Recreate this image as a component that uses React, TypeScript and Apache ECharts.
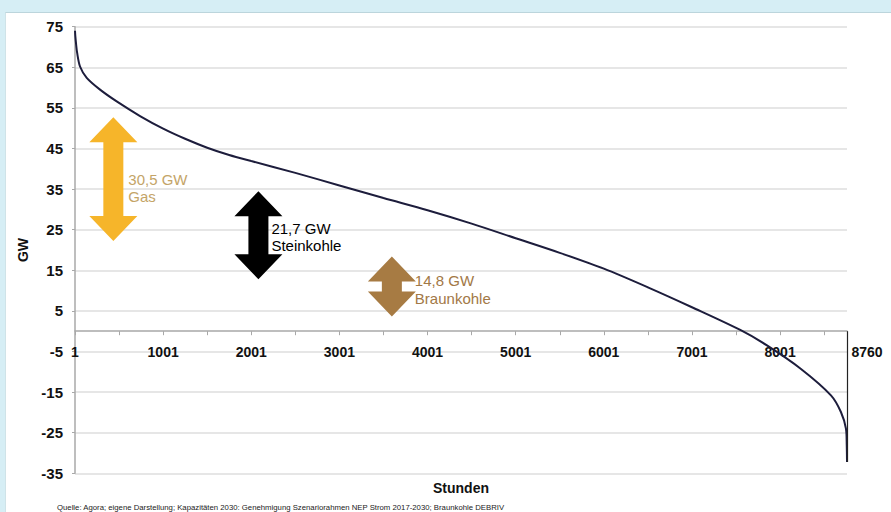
import React, { useEffect, useRef } from "react";
import * as echarts from "echarts";

// Residual load duration curve (hours sorted, GW)
const hours = [1, 5, 12, 25, 58, 134, 285, 474, 739, 1001, 1250, 1501, 1750, 2001, 2501, 3001, 3501, 4001, 4501, 5001, 5501, 6001, 6501, 7001, 7549, 7852, 8238, 8578, 8691, 8748, 8757, 8760];
const residualLoad = [74.0, 72.6, 71.0, 68.6, 65.2, 62.4, 59.5, 56.6, 53.0, 49.9, 47.4, 45.2, 43.4, 41.9, 39.0, 35.9, 32.8, 29.8, 26.5, 22.9, 19.3, 15.4, 10.8, 5.9, 0.3, -3.5, -9.3, -15.8, -19.9, -24.0, -28.0, -32.2];

// Capacity arrows
const arrowNames = ["Gas", "Steinkohle", "Braunkohle"];
const arrowCapacity = [30.5, 21.7, 14.8];
const arrowCapacityText = ["30,5 GW", "21,7 GW", "14,8 GW"];
const arrowHour = [436, 2082, 3596];
const arrowBottom = [22.2, 12.8, 3.6];

// Axis ticks
const yMin = -35;
const yMax = 75;
const yStep = 10;
const xMin = 1;
const xMax = 8760;
const xTickStep = 500;
const xLabelStep = 1000;

const arrowColors = ["#f6b52a", "#000000", "#a77b43"];
const labelColors = ["#c4a467", "#000000", "#a27846"];
const labelDx = [15, 13, 23];
const labelDy = [9, 2, 3];

const FONT = '"Liberation Sans", Arial, sans-serif';
const GRID_TOP = 26.7;
const GRID_BOTTOM = 38.7;
const CHART_H = 512;

export default function App() {
  const ref = useRef<HTMLDivElement>(null);

  useEffect(() => {
    if (!ref.current) return;
    const chart = echarts.init(ref.current, undefined, { renderer: "svg" });

    const curve = hours.map((h, i) => [h, residualLoad[i]]);
    const arrows = arrowNames.map((n, i) => [arrowHour[i], arrowBottom[i], arrowBottom[i] + arrowCapacity[i], i]);
    const gridH = CHART_H - GRID_TOP - GRID_BOTTOM;
    const zeroOffset = -((0 - yMin) / (yMax - yMin)) * gridH;

    const option: any = {
      animation: false,
      textStyle: { fontFamily: FONT },
      grid: {
        left: 75,
        right: 44,
        top: GRID_TOP,
        bottom: GRID_BOTTOM,
        containLabel: false,
        outerBoundsMode: "none",
      },
      xAxis: {
        type: "value",
        position: "bottom",
        offset: zeroOffset,
        min: xMin,
        max: xMax,
        interval: xTickStep,
        name: "Stunden",
        nameLocation: "middle",
        nameGap: 150,
        nameTextStyle: { fontWeight: "bold", fontSize: 14, color: "#111", fontFamily: FONT },
        axisLine: { show: true, onZero: false, lineStyle: { color: "#a8a8a8", width: 1.5 } },
        axisTick: { show: true, length: 4, lineStyle: { color: "#a8a8a8" } },
        splitLine: { show: false },
        axisLabel: {
          margin: 14,
          fontSize: 14,
          fontWeight: "bold",
          color: "#111",
          fontFamily: FONT,
          showMinLabel: true,
          showMaxLabel: true,
          formatter: (v: number) => {
            if (v === xMax) return "{r|" + xMax + "}";
            return (v - xMin) % xLabelStep === 0 ? String(v) : "";
          },
          rich: {
            r: { fontSize: 14, fontWeight: "bold", color: "#111", fontFamily: FONT, padding: [0, 0, 0, 40] },
          },
        },
      },
      yAxis: {
        type: "value",
        min: yMin,
        max: yMax,
        interval: yStep,
        name: "GW",
        nameLocation: "middle",
        nameGap: 41,
        nameTextStyle: { fontWeight: "bold", fontSize: 14, color: "#111", fontFamily: FONT },
        axisLine: { show: true, onZero: false, lineStyle: { color: "#a8a8a8", width: 1.5 } },
        axisTick: { show: true, length: 3, lineStyle: { color: "#a8a8a8" } },
        axisLabel: { margin: 12, fontSize: 15, fontWeight: "bold", color: "#111", fontFamily: FONT },
        splitLine: { show: true, lineStyle: { color: "#dedede", width: 1.6 } },
      },
      series: [
        {
          type: "line",
          data: curve,
          showSymbol: false,
          smooth: 0.3,
          lineStyle: { color: "#1d1d3c", width: 2 },
          z: 3,
          markLine: {
            silent: true,
            symbol: "none",
            label: { show: false },
            lineStyle: { color: "#222", width: 1.2, type: "solid" },
            data: [[{ coord: [xMax, 0] }, { coord: [xMax, residualLoad[residualLoad.length - 1]] }]],
          },
        },
        {
          type: "custom",
          data: arrows,
          encode: { x: 0, y: [1, 2] },
          clip: false,
          z: 4,
          renderItem: (params: any, api: any) => {
            const idx = api.value(3);
            const top = api.coord([api.value(0), api.value(2)]);
            const bot = api.coord([api.value(0), api.value(1)]);
            const cx = top[0];
            const yt = top[1];
            const yb = bot[1];
            const hw = 24;
            const hh = 25;
            const sw = 10;
            const pts = [
              [cx, yt],
              [cx + hw, yt + hh],
              [cx + sw, yt + hh],
              [cx + sw, yb - hh],
              [cx + hw, yb - hh],
              [cx, yb],
              [cx - hw, yb - hh],
              [cx - sw, yb - hh],
              [cx - sw, yt + hh],
              [cx - hw, yt + hh],
            ];
            const mid = (yt + yb) / 2;
            return {
              type: "group",
              children: [
                { type: "polygon", shape: { points: pts }, style: { fill: arrowColors[idx] } },
                {
                  type: "text",
                  x: cx + labelDx[idx],
                  y: mid + labelDy[idx],
                  style: {
                    text: arrowCapacityText[idx] + "\n" + arrowNames[idx],
                    fill: labelColors[idx],
                    fontSize: 15,
                    fontFamily: FONT,
                    lineHeight: 17.5,
                    align: "left",
                    verticalAlign: "middle",
                  },
                },
              ],
            };
          },
        },
      ],
      graphic: [
        {
          type: "text",
          left: 57,
          top: 503,
          style: {
            text: "Quelle: Agora; eigene Darstellung; Kapazitäten 2030: Genehmigung Szenariorahmen NEP Strom 2017-2030; Braunkohle DEBRIV",
            fontSize: 7.75,
            fontFamily: FONT,
            fill: "#222",
          },
        },
      ],
    };

    chart.setOption(option);
    return () => chart.dispose();
  }, []);

  return (
    <div style={{ position: "fixed", left: 0, top: 0, width: 891, height: 512, background: "#d6eef5", overflow: "hidden" }}>
      <div
        style={{
          position: "absolute",
          left: 5,
          top: 12,
          width: 886,
          height: 500,
          background: "#ffffff",
          borderTop: "1px solid #bcd5dc",
          borderLeft: "1px solid #cfe3e8",
          boxSizing: "border-box",
        }}
      />
      <div ref={ref} style={{ position: "absolute", left: 0, top: 0, width: 891, height: 512 }} />
    </div>
  );
}
